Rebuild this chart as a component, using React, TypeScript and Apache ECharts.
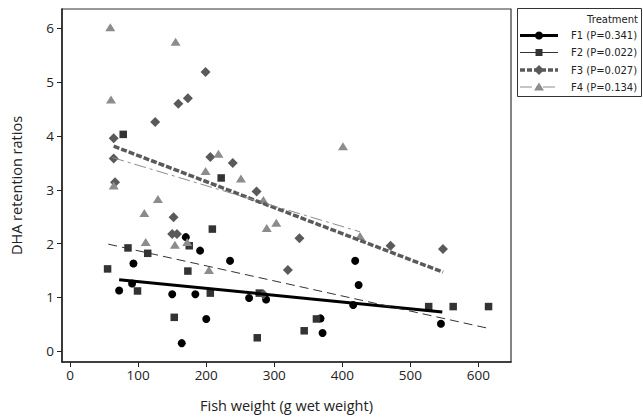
import React, { useEffect, useRef } from "react";
import * as echarts from "echarts";

// ---- data ----
const xTicks = [0, 100, 200, 300, 400, 500, 600];
const yTicks = [0, 1, 2, 3, 4, 5, 6];

const f1Points: number[][] = [
  [72, 1.13], [91, 1.26], [93, 1.63], [150, 1.06], [164, 0.15], [170, 2.12],
  [184, 1.06], [191, 1.87], [200, 0.6], [235, 1.68], [263, 0.99], [288, 0.96],
  [368, 0.61], [371, 0.34], [416, 0.86], [419, 1.68], [424, 1.23], [545, 0.51],
];
const f2Points: number[][] = [
  [55, 1.53], [78, 4.03], [85, 1.92], [99, 1.12], [114, 1.82], [153, 0.63],
  [173, 1.49], [175, 1.96], [206, 1.08], [209, 2.27], [222, 3.22], [278, 1.08],
  [275, 0.25], [344, 0.38], [362, 0.6], [527, 0.83], [563, 0.83], [615, 0.83],
];
const f3Points: number[][] = [
  [64, 3.96], [64, 3.58], [66, 3.14], [125, 4.26], [150, 2.18], [152, 2.49],
  [157, 2.18], [159, 4.6], [173, 4.7], [199, 5.19], [206, 3.61], [239, 3.5],
  [274, 2.97], [284, 1.06], [320, 1.51], [337, 2.1], [471, 1.96], [548, 1.9],
];
const f4Points: number[][] = [
  [59, 6.02], [60, 4.68], [64, 3.08], [109, 2.57], [111, 2.03], [129, 2.83],
  [154, 1.98], [155, 5.75], [172, 2.03], [199, 3.35], [204, 1.51], [218, 3.67],
  [251, 3.21], [284, 2.81], [289, 2.29], [303, 2.39], [401, 3.81], [426, 2.14],
];

const f1Fit: number[][] = [[72, 1.33], [547, 0.73]];
const f2Fit: number[][] = [[56, 1.99], [613, 0.43]];
const f3Fit: number[][] = [[64, 3.81], [548, 1.47]];
const f4Fit: number[][] = [[62, 3.6], [426, 2.22]];

const legendTitle = "Treatment";
const legendNames = ["F1 (P=0.341)", "F2 (P=0.022)", "F3 (P=0.027)", "F4 (P=0.134)"];

const C1 = "#000000";
const C2 = "#333333";
const C3 = "#5a5a5a";
const C4 = "#8c8c8c";

export default function App() {
  const ref = useRef<HTMLDivElement>(null);
  useEffect(() => {
    if (!ref.current) return;
    const chart = echarts.init(ref.current, undefined, { renderer: "svg" });
    const axisFont = "'Open Sans', 'Noto Sans', sans-serif";
    const legFont = "'DejaVu Sans', sans-serif";

    const lx0 = 520, lx1 = 558, lmx = 539, ltx = 571;
    const rowY = [35.5, 52.5, 70, 87];

    const legendGraphics: any[] = [
      {
        type: "rect",
        shape: { x: 517.5, y: 8.5, width: 124, height: 88 },
        style: { fill: "#fff", stroke: "#333", lineWidth: 1 },
      },
      {
        type: "text",
        x: 638, y: 19.5,
        style: { text: legendTitle, font: `10px ${legFont}`, fill: "#222", align: "right", verticalAlign: "middle" },
      },
    ];
    legendNames.forEach((n, i) => {
      legendGraphics.push({
        type: "text",
        x: ltx, y: rowY[i],
        style: { text: n, font: `10px ${legFont}`, fill: "#222", align: "left", verticalAlign: "middle" },
      });
    });
    legendGraphics.push({ type: "line", shape: { x1: lx0, y1: rowY[0], x2: lx1, y2: rowY[0] }, style: { stroke: C1, lineWidth: 3 } });
    legendGraphics.push({ type: "circle", shape: { cx: lmx, cy: rowY[0], r: 4 }, style: { fill: C1 } });
    legendGraphics.push({ type: "line", shape: { x1: lx0, y1: rowY[1], x2: lx1, y2: rowY[1] }, style: { stroke: C2, lineWidth: 1 } });
    legendGraphics.push({ type: "rect", shape: { x: lmx - 3.5, y: rowY[1] - 3.5, width: 7, height: 7 }, style: { fill: C2 } });
    legendGraphics.push({ type: "line", shape: { x1: lx0, y1: rowY[2], x2: lx1, y2: rowY[2] }, style: { stroke: C3, lineWidth: 3.5, lineDash: [5, 2] } });
    legendGraphics.push({ type: "polygon", shape: { points: [[lmx, rowY[2] - 5], [lmx + 5, rowY[2]], [lmx, rowY[2] + 5], [lmx - 5, rowY[2]]] }, style: { fill: C3 } });
    legendGraphics.push({ type: "line", shape: { x1: lx0, y1: rowY[3], x2: lx1, y2: rowY[3] }, style: { stroke: C4, lineWidth: 1, lineDash: [12, 4, 3, 4] } });
    legendGraphics.push({ type: "polygon", shape: { points: [[lmx, rowY[3] - 4.5], [lmx + 5, rowY[3] + 3.5], [lmx - 5, rowY[3] + 3.5]] }, style: { fill: C4 } });

    const scatter = (data: number[][], symbol: string, size: any, color: string) => ({
      type: "scatter",
      data,
      symbol,
      symbolSize: size,
      itemStyle: { color, opacity: 1 },
      z: 2,
    });
    const fit = (data: number[][], color: string, width: number, dash: any) => ({
      type: "line",
      data,
      showSymbol: false,
      symbol: "none",
      lineStyle: { color, width, type: dash },
      z: 3,
    });

    chart.setOption({
      animation: false,
      backgroundColor: "#fff",
      grid: {
        left: 62, top: 9, right: 132, bottom: 53,
        show: true, borderColor: "#333", borderWidth: 1.2, backgroundColor: "transparent",
      },
      xAxis: {
        type: "value",
        min: -12, max: 648,
        name: "Fish weight (g wet weight)",
        nameLocation: "middle",
        nameGap: 36,
        nameTextStyle: { fontFamily: axisFont, fontSize: 14.5, color: "#222" },
        axisLine: { show: true, onZero: false, lineStyle: { color: "#222", width: 1.5 } },
        axisTick: { show: true, length: 5, lineStyle: { color: "#222" }, customValues: xTicks },
        axisLabel: { fontFamily: axisFont, fontSize: 13.5, color: "#222", margin: 6, customValues: xTicks },
        splitLine: { show: false },
      },
      yAxis: {
        type: "value",
        min: -0.2, max: 6.36,
        name: "DHA retention ratios",
        nameLocation: "middle",
        nameGap: 38,
        nameTextStyle: { fontFamily: axisFont, fontSize: 14.5, color: "#222" },
        axisLine: { show: true, onZero: false, lineStyle: { color: "#222", width: 1.5 } },
        axisTick: { show: true, length: 5, lineStyle: { color: "#222" }, customValues: yTicks },
        axisLabel: { fontFamily: axisFont, fontSize: 13.5, color: "#222", margin: 8, customValues: yTicks },
        splitLine: { show: false },
      },
      series: [
        scatter(f1Points, "circle", 8, C1),
        scatter(f2Points, "rect", 7.5, C2),
        scatter(f3Points, "diamond", 10, C3),
        scatter(f4Points, "triangle", [10, 8], C4),
        fit(f1Fit, C1, 3, "solid"),
        fit(f2Fit, C2, 1, [9, 5]),
        fit(f3Fit, C3, 3.5, [6, 2]),
        fit(f4Fit, C4, 1, [12, 4, 3, 4]),
      ],
      graphic: legendGraphics,
    });
    return () => chart.dispose();
  }, []);
  return (
    <div
      ref={ref}
      style={{ position: "absolute", left: 0, top: 0, width: 643, height: 418 }}
    />
  );
}
